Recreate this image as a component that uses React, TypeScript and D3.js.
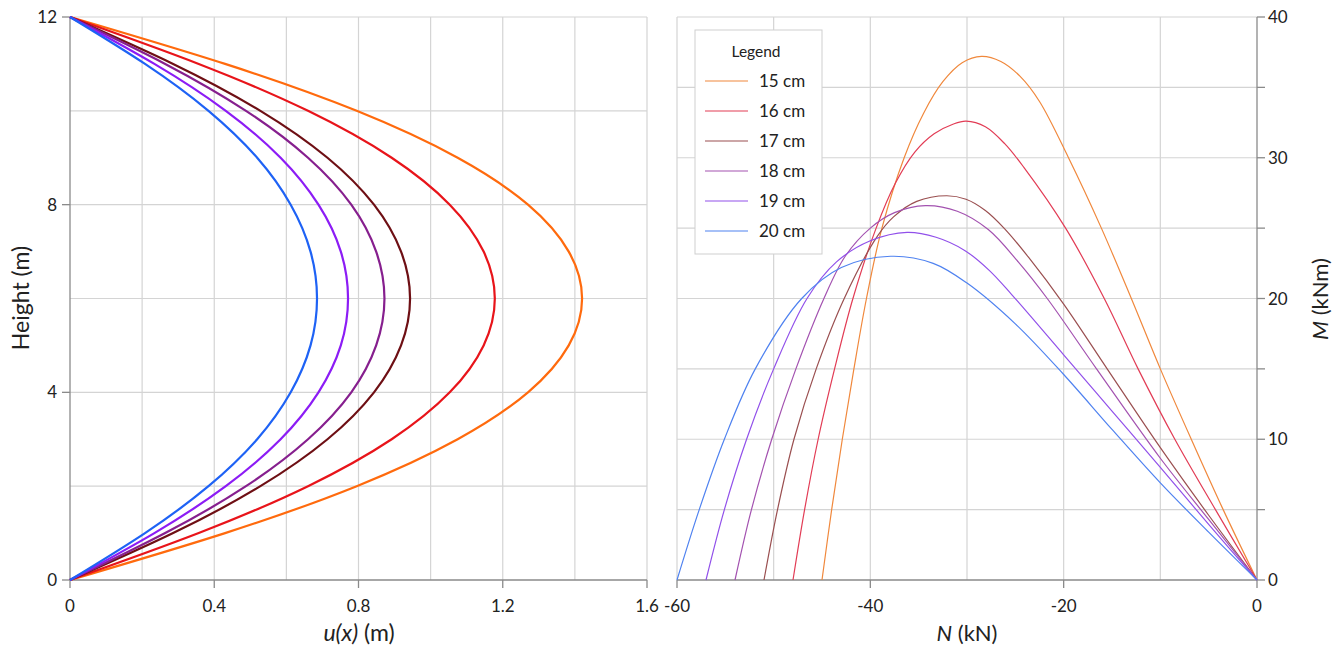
import React from 'react';
import * as d3 from 'd3';

// Wall thickness of each case
const seriesLabels = ['15 cm', '16 cm', '17 cm', '18 cm', '19 cm', '20 cm'];

// Deflected shape u(x) along the height
const heightSteps = [0, 1, 2, 3, 4, 5, 6, 7, 8, 9, 10, 11, 12];
const defl15 = [0, 0.43, 0.795, 1.075, 1.27, 1.383, 1.42, 1.383, 1.27, 1.075, 0.795, 0.43, 0];
const defl16 = [0, 0.357, 0.66, 0.892, 1.053, 1.147, 1.178, 1.147, 1.053, 0.892, 0.66, 0.357, 0];
const defl17 = [0, 0.286, 0.528, 0.714, 0.843, 0.918, 0.943, 0.918, 0.843, 0.714, 0.528, 0.286, 0];
const defl18 = [0, 0.264, 0.488, 0.66, 0.78, 0.849, 0.872, 0.849, 0.78, 0.66, 0.488, 0.264, 0];
const defl19 = [0, 0.234, 0.432, 0.584, 0.689, 0.751, 0.771, 0.751, 0.689, 0.584, 0.432, 0.234, 0];
const defl20 = [0, 0.208, 0.384, 0.519, 0.612, 0.667, 0.685, 0.667, 0.612, 0.519, 0.384, 0.208, 0];
const deflections = [defl15, defl16, defl17, defl18, defl19, defl20];

// Interaction paths: axial force N (kN) and bending moment M (kNm)
const axial15 = [-45.0, -44.0, -42.9, -41.7, -40.4, -38.8, -36.5, -34.5, -32.5, -30.5, -28.5, -26.5, -24.5, -22.5, -19.5, -16.1, -13.0, -10.0, -6.8, -3.5, 0];
const moment15 = [0, 5, 10, 15, 20, 25, 30, 33.15, 35.4, 36.75, 37.2, 36.84, 35.78, 34.0, 30, 25, 20, 15, 10, 5, 0];
const axial16 = [-48.0, -46.8, -45.4, -43.7, -41.8, -39.4, -37.4, -35.4, -33.4, -31.4, -30.1, -28.1, -26.1, -24.1, -19.8, -15.8, -12.3, -8.5, -4.3, 0];
const moment16 = [0, 5, 10, 15, 20, 25, 28.2, 30.4, 31.7, 32.4, 32.6, 32.2, 31.0, 29.3, 25, 20, 15, 10, 5, 0];
const axial17 = [-51.0, -49.6, -47.9, -45.6, -42.7, -39.3, -37.6, -35.2, -32.1, -30.1, -28.1, -26.1, -23.6, -20.0, -15.5, -10.0, -5.0, 0];
const moment17 = [0, 5, 10, 15, 20, 24.4, 25.8, 26.9, 27.3, 27.05, 26.25, 24.95, 22.9, 19.6, 15, 9.4, 4.6, 0];
const axial18 = [-54.0, -52.3, -50.2, -47.7, -44.8, -42.6, -40.0, -37.5, -34.3, -31.0, -27.8, -24.7, -21.7, -16.6, -10.0, -5.0, 0];
const moment18 = [0, 5, 10, 15, 20, 23, 25, 26.1, 26.6, 26.2, 24.9, 22.6, 20, 15, 8.65, 4.3, 0];
const axial19 = [-57.0, -55.1, -52.8, -50.0, -46.55, -43.5, -40.0, -36.2, -33.2, -30.2, -27.7, -25.4, -20.0, -15.0, -10.0, -5.0, 0];
const moment19 = [0, 5, 10, 15, 20, 22.6, 24.1, 24.7, 24.35, 23.4, 22.0, 20.3, 16.0, 12.0, 8.0, 3.95, 0];
const axial20 = [-60.0, -57.7, -55.1, -51.9, -47.1, -43.0, -37.9, -33.5, -30.0, -25.0, -20.0, -15.0, -10.0, -5.0, 0];
const moment20 = [0, 5, 10, 15, 20, 22.2, 23.0, 22.5, 21.1, 18.2, 14.6, 10.7, 6.9, 3.4, 0];
const axialSets = [axial15, axial16, axial17, axial18, axial19, axial20];
const momentSets = [moment15, moment16, moment17, moment18, moment19, moment20];

// Tick labels
const uTickLabels = [0, 0.4, 0.8, 1.2, 1.6];
const heightTickLabels = [0, 4, 8, 12];
const nTickLabels = [-60, -40, -20, 0];
const mTickLabels = [0, 10, 20, 30, 40];

const thickColors = ['#ff6a0d', '#e8141a', '#6e0f14', '#861f8e', '#8c1cf5', '#1e62f5'];
const thinColors = ['#f0883c', '#e23c55', '#9a4f50', '#a352b0', '#9150ea', '#4f82f0'];

const FONT = "Lato, 'Open Sans', sans-serif";
const GRID = '#d4d4d4';
const AXIS = '#8a8a8a';

export default function App() {
  const W = 1337;
  const H = 659;
  const top = 17;
  const bottom = 580;

  const xL = d3.scaleLinear().domain([0, 1.6]).range([70, 647]);
  const yL = d3.scaleLinear().domain([0, 12]).range([bottom, top]);
  const xR = d3.scaleLinear().domain([-60, 0]).range([677, 1257]);
  const yR = d3.scaleLinear().domain([0, 40]).range([bottom, top]);

  const leftLine = (vals: number[]) =>
    d3
      .line<number>()
      .x((d) => xL(d))
      .y((_, i) => yL(heightSteps[i]))
      .curve(d3.curveNatural)(vals) as string;

  const rightLine = (ns: number[], ms: number[]) =>
    d3
      .line<[number, number]>()
      .x((d) => xR(d[0]))
      .y((d) => yR(d[1]))
      .curve(d3.curveCatmullRom.alpha(0.5))(ns.map((n, i) => [n, ms[i]] as [number, number])) as string;

  const xLGrid = xL.ticks(8);
  const yLGrid = yL.ticks(6);
  const xRGrid = xR.ticks(6);
  const yRGrid = yR.ticks(8);

  const legendX = 695;
  const legendY = 30;
  const rowGap = 30;

  return (
    <svg
      width={W}
      height={H}
      style={{ position: 'absolute', left: 0, top: 0, background: '#fff' }}
      fontFamily={FONT}
    >
      <rect x={0} y={0} width={W} height={H} fill="#fff" />

      {/* Left panel: deflected shapes */}
      <g>
        {xLGrid.filter((t) => t > 0).map((t) => (
          <line key={`lx${t}`} x1={xL(t)} x2={xL(t)} y1={top} y2={bottom} stroke={GRID} strokeWidth={1.2} />
        ))}
        {yLGrid.filter((t) => t > 0).map((t) => (
          <line key={`ly${t}`} x1={xL(0)} x2={xL(1.6)} y1={yL(t)} y2={yL(t)} stroke={GRID} strokeWidth={1.2} />
        ))}
        <line x1={xL(0)} x2={xL(0)} y1={top} y2={bottom} stroke={AXIS} strokeWidth={1.3} />
        <line x1={xL(0)} x2={xL(1.6)} y1={bottom} y2={bottom} stroke={AXIS} strokeWidth={1.3} />
        {uTickLabels.map((t) => (
          <g key={`lt${t}`}>
            <line x1={xL(t)} x2={xL(t)} y1={bottom} y2={bottom + 8} stroke={AXIS} strokeWidth={1.3} />
            <text x={xL(t)} y={612} textAnchor="middle" fontSize={17} fill="#222">
              {t}
            </text>
          </g>
        ))}
        {heightTickLabels.map((t) => (
          <g key={`lh${t}`}>
            <line x1={xL(0) - 8} x2={xL(0)} y1={yL(t)} y2={yL(t)} stroke={AXIS} strokeWidth={1.3} />
            <text x={57} y={yL(t) + 6} textAnchor="end" fontSize={17} fill="#222">
              {t}
            </text>
          </g>
        ))}
        {deflections.map((vals, i) => (
          <path key={`d${i}`} d={leftLine(vals)} fill="none" stroke={thickColors[i]} strokeWidth={2.2} />
        ))}
        <text
          transform={`translate(29,298) rotate(-90)`}
          textAnchor="middle"
          fontSize={23}
          fill="#222"
        >
          Height (m)
        </text>
        <text x={359} y={641} textAnchor="middle" fontSize={23} fill="#222">
          <tspan fontStyle="italic">u(x)</tspan> (m)
        </text>
      </g>

      {/* Right panel: N–M paths */}
      <g>
        {xRGrid.filter((t) => t < 0).map((t) => (
          <line key={`rx${t}`} x1={xR(t)} x2={xR(t)} y1={top} y2={bottom} stroke={GRID} strokeWidth={1.2} />
        ))}
        {yRGrid.filter((t) => t > 0).map((t) => (
          <line key={`ry${t}`} x1={xR(-60)} x2={xR(0)} y1={yR(t)} y2={yR(t)} stroke={GRID} strokeWidth={1.2} />
        ))}
        <line x1={xR(0)} x2={xR(0)} y1={top} y2={bottom} stroke={AXIS} strokeWidth={1.3} />
        <line x1={xR(-60)} x2={xR(0)} y1={bottom} y2={bottom} stroke={AXIS} strokeWidth={1.3} />
        {nTickLabels.map((t) => (
          <g key={`nt${t}`}>
            <line x1={xR(t)} x2={xR(t)} y1={bottom} y2={bottom + 8} stroke={AXIS} strokeWidth={1.3} />
            <text x={xR(t)} y={612} textAnchor="middle" fontSize={17} fill="#222">
              {t}
            </text>
          </g>
        ))}
        {yRGrid.map((t) => (
          <line key={`mt${t}`} x1={xR(0)} x2={xR(0) + 8} y1={yR(t)} y2={yR(t)} stroke={AXIS} strokeWidth={1.3} />
        ))}
        {mTickLabels.map((t) => (
          <text key={`ml${t}`} x={1268} y={yR(t) + 6} textAnchor="start" fontSize={17} fill="#222">
            {t}
          </text>
        ))}
        {axialSets.map((ns, i) => (
          <path key={`nm${i}`} d={rightLine(ns, momentSets[i])} fill="none" stroke={thinColors[i]} strokeWidth={1.2} />
        ))}
        <text x={967} y={641} textAnchor="middle" fontSize={22} fill="#222">
          <tspan fontStyle="italic">N</tspan> (kN)
        </text>
        <text
          transform={`translate(1328,299) rotate(-90)`}
          textAnchor="middle"
          fontSize={22}
          fill="#222"
        >
          <tspan fontStyle="italic">M</tspan> (kNm)
        </text>

        {/* Legend */}
        <rect x={legendX} y={legendY} width={127} height={224} fill="#fff" stroke="#cfcfcf" strokeWidth={1} />
        <text x={legendX + 61} y={legendY + 27} textAnchor="middle" fontSize={15.5} fill="#222">
          Legend
        </text>
        {seriesLabels.map((lab, i) => (
          <g key={`lg${i}`}>
            <line
              x1={legendX + 10}
              x2={legendX + 53}
              y1={legendY + 51 + i * rowGap}
              y2={legendY + 51 + i * rowGap}
              stroke={thinColors[i]}
              strokeWidth={1.2}
            />
            <text x={legendX + 64} y={legendY + 57 + i * rowGap} fontSize={17} fill="#222">
              {lab}
            </text>
          </g>
        ))}
      </g>
    </svg>
  );
}
